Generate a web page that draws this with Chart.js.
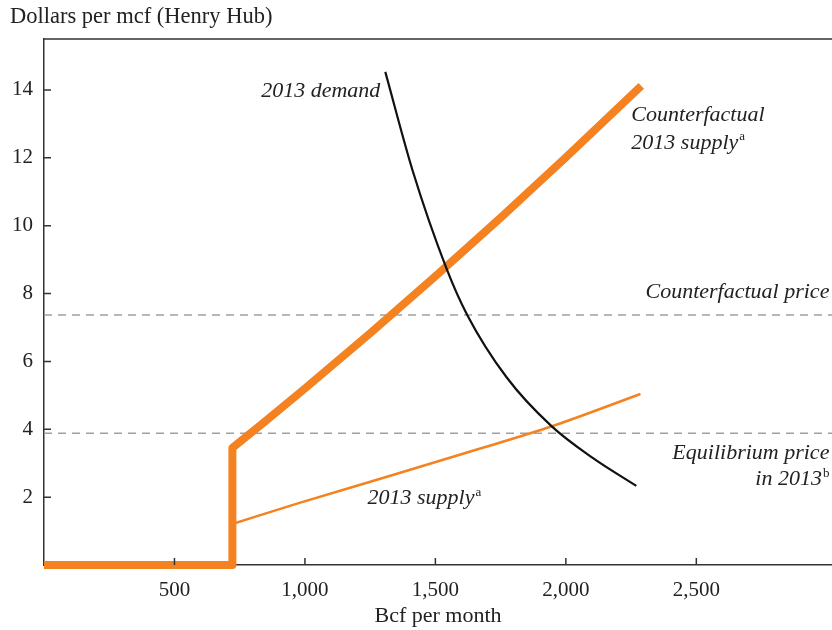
<!DOCTYPE html>
<html lang="en">
<head>
    <meta charset="UTF-8">
    <title>Natural gas supply and demand</title>
    <script src="https://cdn.jsdelivr.net/npm/chart.js"></script>
    <style>
        html, body { margin: 0; padding: 0; background: #fff; }
        .wrap { width: 832px; height: 630px; position: relative; }
    </style>
</head>
<body>
    <div class="wrap">
        <canvas id="myChart"></canvas>
    </div>
    <script>
        // Data (x = Bcf per month, y = dollars per mcf)
        const cfSupplyX = [0, 722, 722, 850, 1000, 1250, 1500, 1750, 2000, 2289];
        const cfSupplyY = [0, 0, 3.45, 4.25, 5.20, 6.83, 8.51, 10.23, 12.01, 14.12];
        const supplyX = [722, 979, 1362, 1650, 1944, 2286];
        const supplyY = [1.21, 1.83, 2.71, 3.38, 4.08, 5.04];
        const demandX = [1308, 1412, 1542, 1622, 1772, 1944, 2100, 2270];
        const demandY = [14.53, 11.64, 8.75, 7.37, 5.54, 4.10, 3.17, 2.33];
        const cfPrice = 7.37;
        const eqPrice = 3.88;
        const xTicks = [500, 1000, 1500, 2000, 2500];
        const yTicks = [2, 4, 6, 8, 10, 12, 14];

        const orange = '#f58220';
        const serif = '"Liberation Serif", "DejaVu Serif", serif';
        const toPts = (xs, ys) => xs.map((x, i) => ({ x: x, y: ys[i] }));

        // inward ticks, top border and text labels
        const extras = {
            id: 'extras',
            afterDraw(chart) {
                const c = chart.ctx;
                const xs = chart.scales.x, ys = chart.scales.y;
                const a = chart.chartArea;
                c.save();
                c.strokeStyle = '#333';
                c.lineWidth = 1.5;
                c.beginPath();
                c.moveTo(a.left, a.top);
                c.lineTo(a.right, a.top);
                xTicks.forEach(v => {
                    const p = xs.getPixelForValue(v);
                    c.moveTo(p, a.bottom);
                    c.lineTo(p, a.bottom - 7);
                });
                yTicks.forEach(v => {
                    const p = ys.getPixelForValue(v);
                    c.moveTo(a.left, p);
                    c.lineTo(a.left + 7, p);
                });
                c.stroke();

                c.fillStyle = '#222';
                c.textBaseline = 'middle';
                c.font = '22.5px ' + serif;
                c.textAlign = 'left';
                c.fillText('Dollars per mcf (Henry Hub)', 10, 17);

                const it = '22px ' + serif;
                const sup = '13px ' + serif;
                const X = v => xs.getPixelForValue(v);
                const Y = v => ys.getPixelForValue(v);
                // write text with optional superscript
                function label(text, supText, x, y, align) {
                    c.font = 'italic ' + it;
                    const w = c.measureText(text).width;
                    c.font = sup;
                    const sw = supText ? c.measureText(supText).width + 1 : 0;
                    let left = x;
                    if (align === 'right') left = x - w - sw;
                    c.textAlign = 'left';
                    c.font = 'italic ' + it;
                    c.fillText(text, left, y);
                    if (supText) {
                        c.font = sup;
                        c.fillText(supText, left + w + 1, y - 6);
                    }
                }
                label('2013 demand', '', X(1289), Y(13.97), 'right');
                label('Counterfactual', '', X(2251), Y(13.26), 'left');
                label('2013 supply', 'a', X(2251), Y(12.44), 'left');
                label('Counterfactual price', '', X(3010), Y(8.05), 'right');
                label('Equilibrium price', '', X(3010), Y(3.30), 'right');
                label('in 2013', 'b', X(3010), Y(2.52), 'right');
                label('2013 supply', 'a', X(1240), Y(1.97), 'left');
                c.restore();
            }
        };

        const ctx = document.getElementById('myChart').getContext('2d');
        new Chart(ctx, {
            type: 'line',
            data: {
                datasets: [
                    {
                        label: 'Counterfactual price',
                        data: [{ x: 0, y: cfPrice }, { x: 3020, y: cfPrice }],
                        borderColor: '#a0a0a0', borderWidth: 1.5, borderDash: [8, 6],
                        pointRadius: 0, order: 5
                    },
                    {
                        label: 'Equilibrium price',
                        data: [{ x: 0, y: eqPrice }, { x: 3020, y: eqPrice }],
                        borderColor: '#a0a0a0', borderWidth: 1.5, borderDash: [8, 6],
                        pointRadius: 0, order: 5
                    },
                    {
                        label: '2013 supply',
                        data: toPts(supplyX, supplyY),
                        borderColor: orange, borderWidth: 2.5,
                        pointRadius: 0, cubicInterpolationMode: 'monotone', order: 3
                    },
                    {
                        label: 'Counterfactual 2013 supply',
                        data: toPts(cfSupplyX, cfSupplyY),
                        borderColor: orange, borderWidth: 8, borderJoinStyle: 'round',
                        borderCapStyle: 'butt', pointRadius: 0, tension: 0, clip: false, order: 2
                    },
                    {
                        label: '2013 demand',
                        data: toPts(demandX, demandY),
                        borderColor: '#111', borderWidth: 2.2,
                        pointRadius: 0, cubicInterpolationMode: 'monotone', order: 1
                    }
                ]
            },
            options: {
                responsive: true,
                maintainAspectRatio: false,
                animation: false,
                layout: { padding: { top: 39, right: 0, left: 0, bottom: 0 } },
                plugins: { legend: { display: false }, tooltip: { enabled: false } },
                scales: {
                    x: {
                        type: 'linear', min: 0, max: 3020,
                        afterBuildTicks: s => { s.ticks = xTicks.map(v => ({ value: v })); },
                        afterFit: s => { s.height = 65; },
                        grid: { display: false },
                        border: { color: '#333', width: 1.5 },
                        ticks: {
                            color: '#222', padding: 5,
                            font: { family: serif, size: 21 },
                            callback: v => v.toLocaleString('en-US')
                        },
                        title: {
                            display: true, text: 'Bcf per month', color: '#222',
                            font: { family: serif, size: 22 }, padding: { top: 0, bottom: 1 }
                        }
                    },
                    y: {
                        type: 'linear', min: 0, max: 15.5,
                        afterBuildTicks: s => { s.ticks = yTicks.map(v => ({ value: v })); },
                        afterFit: s => { s.width = 44; },
                        grid: { display: false },
                        border: { color: '#333', width: 1.5 },
                        ticks: {
                            color: '#222', padding: 3,
                            font: { family: serif, size: 21 }
                        }
                    }
                }
            },
            plugins: [extras]
        });
    </script>
</body>
</html>
